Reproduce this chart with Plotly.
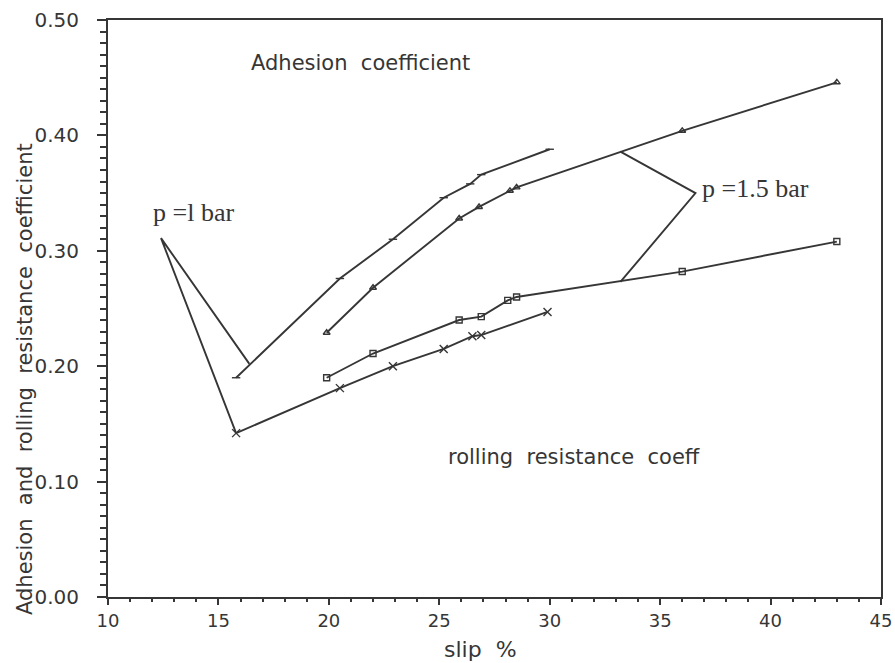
import plotly.graph_objects as go

# ---- data ----
# adhesion coefficient, p = 1 bar
adh1_x = [15.8, 20.5, 22.9, 25.2, 26.4, 26.9, 30.0]
adh1_y = [0.190, 0.276, 0.310, 0.346, 0.358, 0.366, 0.388]

# adhesion coefficient, p = 1.5 bar
adh15_x = [19.9, 22.0, 25.9, 26.8, 28.2, 28.5, 36.0, 43.0]
adh15_y = [0.229, 0.268, 0.328, 0.338, 0.352, 0.355, 0.404, 0.446]

# rolling resistance coefficient, p = 1.5 bar
rr15_x = [19.9, 22.0, 25.9, 26.9, 28.1, 28.5, 36.0, 43.0]
rr15_y = [0.190, 0.211, 0.240, 0.243, 0.257, 0.260, 0.282, 0.308]

# rolling resistance coefficient, p = 1 bar
rr1_x = [15.8, 20.5, 22.9, 25.2, 26.5, 26.9, 29.9]
rr1_y = [0.142, 0.181, 0.200, 0.215, 0.226, 0.227, 0.247]

# pointer lines from the pressure labels to the curves
ptr1_x = [16.4, 12.4, 15.8]
ptr1_y = [0.202, 0.311, 0.142]
ptr15_x = [33.2, 36.6, 33.2]
ptr15_y = [0.386, 0.350, 0.273]

x_ticks = [10, 15, 20, 25, 30, 35, 40, 45]
y_ticks = [0.0, 0.1, 0.2, 0.3, 0.4, 0.5]

ink = '#363636'
font = 'DejaVu Sans'

# plot box in pixels (matches the scan)
L, R, T, B = 108, 14, 20, 66
W, H = 895, 663
pw, ph = W - L - R, H - T - B


def curve(x, y, symbol, size):
    return go.Scatter(
        x=x, y=y, mode='lines+markers',
        line=dict(color=ink, width=1.9),
        marker=dict(symbol=symbol, size=size, color=ink,
                    line=dict(color=ink, width=1.4)),
        hoverinfo='x+y')


fig = go.Figure()
fig.add_trace(curve(adh1_x, adh1_y, 'line-ew', 6))
fig.add_trace(curve(adh15_x, adh15_y, 'triangle-up-open', 6))
fig.add_trace(curve(rr15_x, rr15_y, 'square-open', 6))
fig.add_trace(curve(rr1_x, rr1_y, 'x-thin', 8))

# pointer lines
for px, py in [(ptr1_x, ptr1_y), (ptr15_x, ptr15_y)]:
    fig.add_trace(go.Scatter(x=px, y=py, mode='lines',
                             line=dict(color=ink, width=1.9), hoverinfo='skip'))

# text labels inside the plot
labels = [
    (16.4, 0.463, 'Adhesion  coefficient', font, 21),
    (25.3, 0.121, 'rolling  resistance  coeff', font, 21),
    (11.95, 0.333, 'p =l bar', 'Liberation Serif', 26),
    (36.8, 0.354, 'p =1.5 bar', 'Liberation Serif', 26),
]
for lx, ly, txt, fam, sz in labels:
    fig.add_annotation(x=lx, y=ly, text=txt, showarrow=False, xanchor='left',
                       yanchor='middle', font=dict(family=fam, size=sz, color=ink))

# axis titles placed like the original
fig.add_annotation(x=(25 - L) / pw, y=(H - B - 379) / ph, xref='paper', yref='paper',
                   xanchor='center', yanchor='middle',
                   text='Adhesion  and  rolling  resistance  coefficient',
                   showarrow=False, textangle=-90, font=dict(family=font, size=21, color=ink))
fig.add_annotation(x=(480 - L) / pw, y=-(649 - (H - B)) / ph, xref='paper', yref='paper',
                   xanchor='center', yanchor='middle', text='slip  %',
                   showarrow=False, font=dict(family=font, size=22, color=ink))

fig.update_layout(
    width=W, height=H,
    margin=dict(l=L, r=R, t=T, b=B),
    paper_bgcolor='white', plot_bgcolor='white',
    showlegend=False,
    font=dict(family=font, size=18, color=ink),
    xaxis=dict(
        range=[10, 45], tickvals=x_ticks, showgrid=False, zeroline=False,
        showline=True, linecolor=ink, linewidth=2, mirror=True,
        ticks='outside', ticklen=6, tickcolor=ink, tickwidth=1.5,
        minor=dict(dtick=1, ticks='outside', ticklen=3, tickcolor=ink),
        tickfont=dict(size=18, color=ink), automargin=False,
    ),
    yaxis=dict(
        range=[0, 0.5], tickvals=y_ticks, tickformat='.2f', showgrid=False, zeroline=False,
        showline=True, linecolor=ink, linewidth=2, mirror=True,
        ticks='outside', ticklen=9, tickcolor=ink, tickwidth=1.5,
        minor=dict(dtick=0.01, ticks='outside', ticklen=6, tickcolor=ink),
        tickfont=dict(size=20, color=ink), ticklabelstandoff=14, automargin=False,
    ),
)

# the default page has an 8px body margin; drop it so the plot sits at the window edge
fig.write_html('out.html', config={'displayModeBar': False},
               post_script="document.body.style.margin='0';")
